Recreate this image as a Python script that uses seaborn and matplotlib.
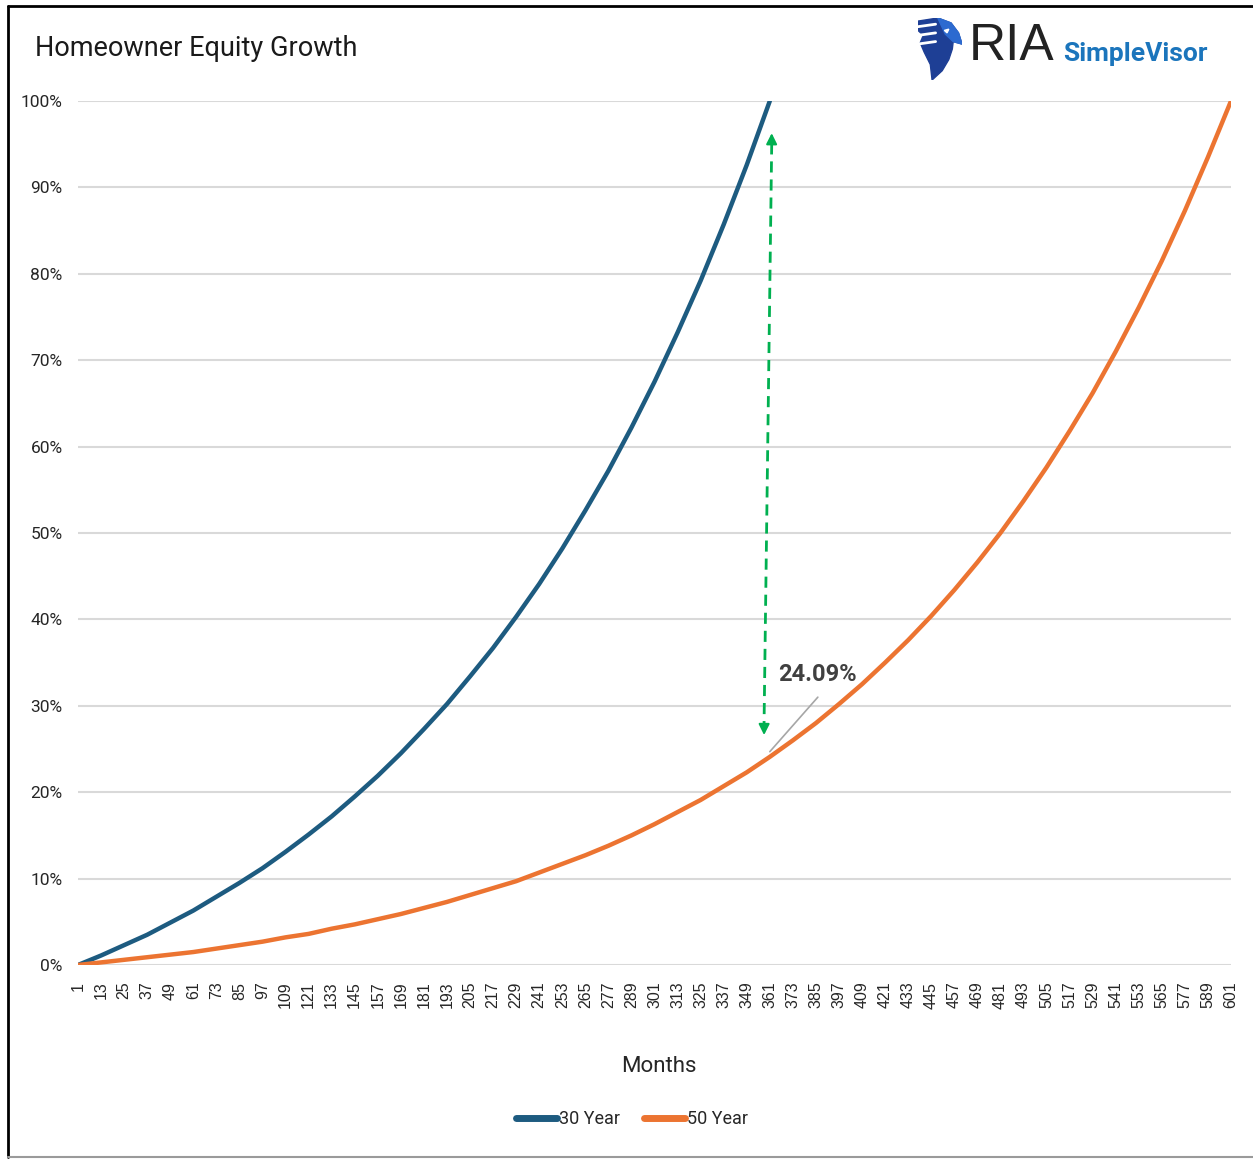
import matplotlib
matplotlib.use("Agg")
import matplotlib.pyplot as plt
import seaborn as sns
import pandas as pd
from matplotlib.lines import Line2D
from matplotlib.patches import Polygon

# ---------------- data ----------------
months_30 = list(range(1, 362, 12))
equity_30 = [0.0, 1.1, 2.3, 3.5, 4.9, 6.3, 7.9, 9.5, 11.2, 13.1, 15.1, 17.2, 19.5,
             21.9, 24.5, 27.3, 30.2, 33.4, 36.7, 40.3, 44.1, 48.2, 52.6, 57.2, 62.2,
             67.5, 73.2, 79.2, 85.7, 92.6, 100.0]
months_50 = list(range(1, 602, 12))
equity_50 = [0.0, 0.3, 0.6, 0.9, 1.2, 1.5, 1.9, 2.3, 2.7, 3.2, 3.6, 4.2, 4.7, 5.3,
             5.9, 6.6, 7.3, 8.1, 8.9, 9.7, 10.7, 11.7, 12.7, 13.8, 15.0, 16.3, 17.7,
             19.1, 20.7, 22.3, 24.09, 26.0, 28.0, 30.2, 32.5, 35.0, 37.6, 40.4, 43.4,
             46.6, 50.0, 53.7, 57.6, 61.8, 66.2, 71.0, 76.1, 81.5, 87.3, 93.5, 100.0]
series_names = ["30 Year", "50 Year"]
x_tick_labels = [str(m) for m in range(1, 602, 12)]
y_ticks = [0, 10, 20, 30, 40, 50, 60, 70, 80, 90, 100]
annot_value = 24.09

df = pd.concat([
    pd.DataFrame({"Month": months_30, "Equity": equity_30, "Term": series_names[0]}),
    pd.DataFrame({"Month": months_50, "Equity": equity_50, "Term": series_names[1]}),
])

BLUE = "#1D5B80"
ORANGE = "#EC7431"
GREEN = "#00B050"
GRID = "#D9D9D9"
TXT = "#262626"

sns.set_theme(style="white")
plt.rcParams["font.family"] = ["Roboto", "Liberation Sans", "DejaVu Sans"]

W, H = 1253, 1159
fig = plt.figure(figsize=(W / 100, H / 100), dpi=100)
ax = fig.add_axes([78 / W, 1 - 965 / H, (1231 - 78) / W, (965 - 101) / H])

sns.lineplot(data=df, x="Month", y="Equity", hue="Term",
             palette={series_names[0]: BLUE, series_names[1]: ORANGE},
             linewidth=3.2, ax=ax, legend=False, solid_capstyle="round")

ax.set_xlim(1, 601)
ax.set_ylim(0, 100)
ax.set_yticks(y_ticks)
ax.set_yticklabels([f"{v}%" for v in y_ticks], fontsize=12.5, color=TXT)
ax.set_xticks([int(t) for t in x_tick_labels])
ax.set_xticklabels(x_tick_labels, rotation=90, fontsize=11.5, color=TXT,
                   family=["Liberation Sans", "DejaVu Sans"])
ax.tick_params(axis="y", length=0, pad=11)
ax.tick_params(axis="x", length=0, pad=12)
ax.grid(axis="y", color=GRID, linewidth=1.5)
ax.grid(axis="x", visible=False)
for s in ax.spines.values():
    s.set_visible(False)
ax.set_axisbelow(True)
ax.set_xlabel("")
ax.set_ylabel("")

# green double arrow between the curves at the 30-year payoff
x_top = months_30[-1] + 1
x_bot = months_30[-1] - 3
y_top = 96.6
y_bot = equity_50[30] + 2.2
ax.plot([x_top, x_bot], [y_top - 1.5, y_bot + 1.5], color=GREEN, lw=2,
        linestyle=(0, (4, 2.5)), zorder=5)
ax.annotate("", xy=(x_top, y_top), xytext=(x_top - 0.05, y_top - 1.8),
            arrowprops=dict(arrowstyle="-|>", color=GREEN, lw=1.5, mutation_scale=16),
            zorder=6)
ax.annotate("", xy=(x_bot, y_bot), xytext=(x_bot + 0.05, y_bot + 1.8),
            arrowprops=dict(arrowstyle="-|>", color=GREEN, lw=1.5, mutation_scale=16),
            zorder=6)

# value callout
ax.plot([months_50[30], 386], [annot_value + 0.6, 31.0], color="#A6A6A6", lw=1.2, zorder=4)
ax.text(386, 33.6, f"{annot_value:.2f}%", ha="center", va="center",
        fontsize=17, fontweight="bold", color="#404040")

# titles & labels
fig.text(35 / W, 1 - 48 / H, "Homeowner Equity Growth", fontsize=19.5, color="#1a1a1a",
         ha="left", va="center")
fig.text(659 / W, 1 - 1067 / H, "Months", fontsize=16, color=TXT, ha="center", va="center")

handles = [Line2D([0], [0], color=BLUE, lw=5), Line2D([0], [0], color=ORANGE, lw=5)]
fig.legend(handles, series_names, loc="center", bbox_to_anchor=(632 / W, 1 - 1119 / H),
           ncol=2, frameon=False, fontsize=13, handlelength=2.3, handletextpad=0.1,
           columnspacing=1.3, labelcolor=TXT)

# logo
fig.text(969 / W, 1 - 47 / H, "RIA", fontsize=37, color="#222222", ha="left", va="center",
         family=["Liberation Sans", "DejaVu Sans"])
fig.text(1063 / W, 1 - 54 / H, "SimpleVisor", fontsize=19, color="#1B75BC",
         fontweight="bold", ha="left", va="center")
lax = fig.add_axes([918 / W, 1 - 80 / H, 44 / W, 62 / H])
lax.set_xlim(0, 1)
lax.set_ylim(0, 1)
lax.axis("off")
lax.add_patch(Polygon([(0.0, 0.95), (0.45, 1.0), (0.75, 0.92), (0.92, 0.76), (1.0, 0.58),
                       (0.80, 0.62), (0.78, 0.50), (0.70, 0.33), (0.55, 0.15), (0.32, 0.0),
                       (0.28, 0.25), (0.14, 0.45), (0.05, 0.60), (0.12, 0.72), (0.0, 0.80)],
                      closed=True, color="#1E3F95"))
lax.add_patch(Polygon([(0.45, 1.0), (0.75, 0.92), (0.92, 0.76), (1.0, 0.58), (0.80, 0.62),
                       (0.62, 0.74)], closed=True, color="#2C6AD0"))
for yy in (0.86, 0.72, 0.58):
    lax.plot([0.0, 0.40], [yy, yy + 0.04], color="white", lw=2.0)
lax.add_patch(Polygon([(0.60, 0.80), (0.70, 0.82), (0.66, 0.76)], closed=True, color="white"))

# figure frame
fig.add_artist(Line2D([8 / W, 8 / W], [1 - 6 / H, 1 - 1157 / H], color="black", lw=2,
                      transform=fig.transFigure))
fig.add_artist(Line2D([8 / W, 1.0], [1 - 6 / H, 1 - 6 / H], color="black", lw=2,
                      transform=fig.transFigure))
fig.add_artist(Line2D([8 / W, 1.0], [1 - 1157 / H, 1 - 1157 / H], color="#9a9a9a", lw=1.5,
                      transform=fig.transFigure))

fig.savefig("out.png", dpi=100)
